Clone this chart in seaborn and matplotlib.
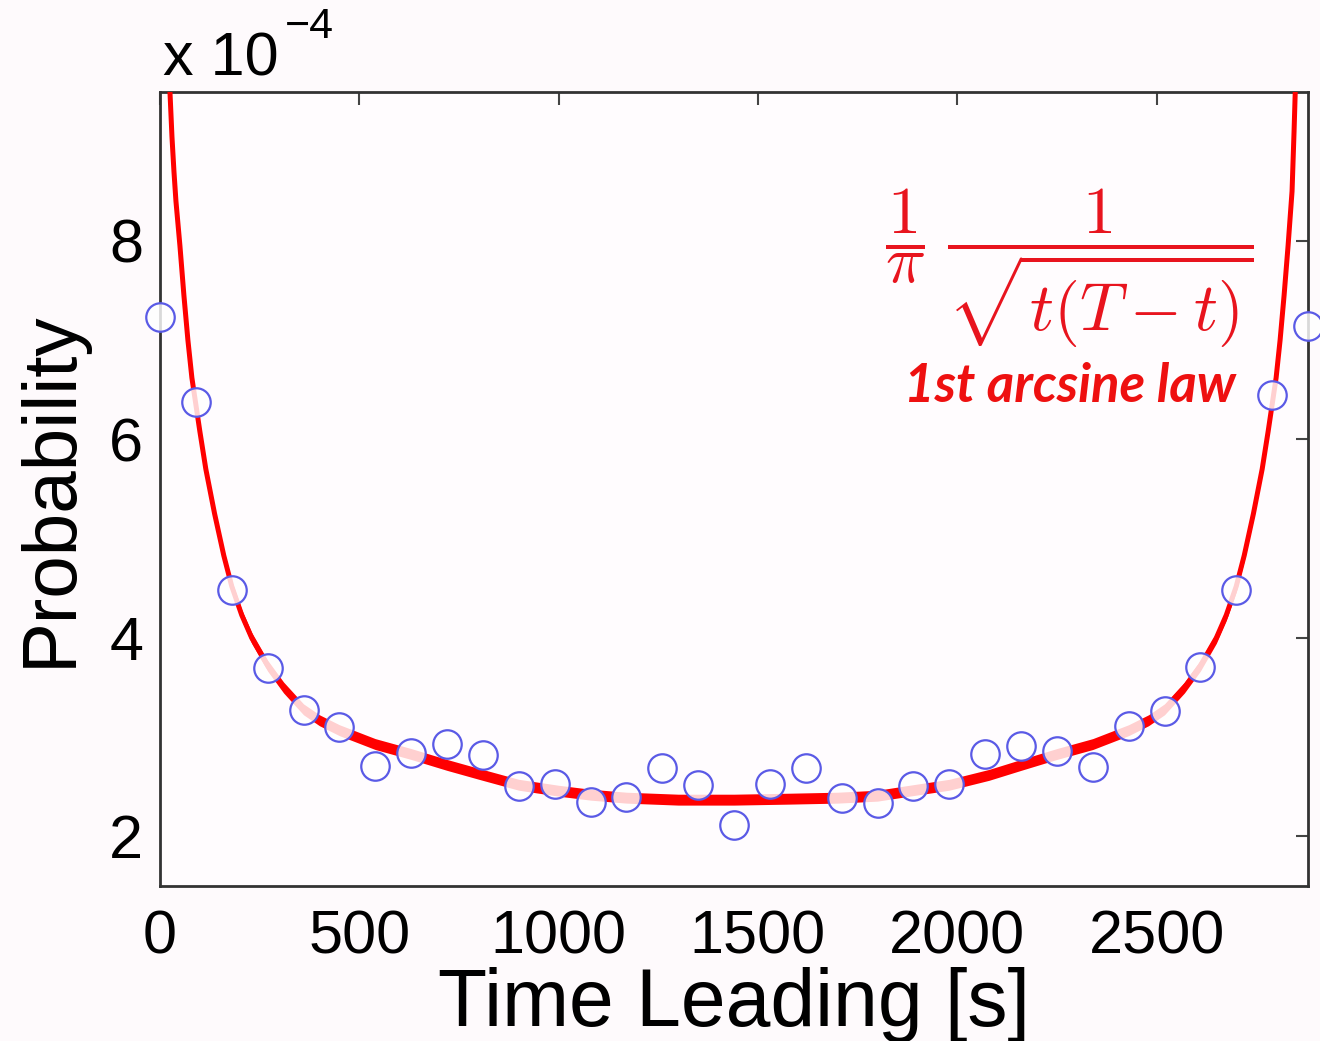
import numpy as np
import pandas as pd
import matplotlib
matplotlib.use("Agg")
import matplotlib.pyplot as plt
import seaborn as sns

# Game length in seconds and axis extents (probability in units of 1e-4)
T_GAME = 2880
X_TICKS = [0, 500, 1000, 1500, 2000, 2500]
Y_TICKS = [2, 4, 6, 8]

# Measured fraction of games by time leading (bins every 90 s), x 1e-4
lead_time = [0, 90, 180, 270, 360, 450, 540, 630, 720, 810, 900, 990, 1080,
             1170, 1260, 1350, 1440, 1530, 1620, 1710, 1800, 1890, 1980,
             2070, 2160, 2250, 2340, 2430, 2520, 2610, 2700, 2790, 2880]
lead_prob = [7.23, 6.38, 4.48, 3.70, 3.27, 3.10, 2.71, 2.84, 2.93, 2.82,
             2.51, 2.53, 2.35, 2.40, 2.69, 2.52, 2.11, 2.53, 2.69, 2.39,
             2.34, 2.51, 2.53, 2.83, 2.91, 2.86, 2.70, 3.11, 3.26, 3.71,
             4.48, 6.45, 7.14]

# Arcsine-law curve, x 1e-4
curve_t = [22, 25, 30, 35, 40, 50, 60, 70, 80, 90, 100, 115, 137, 160, 180,
           205, 230, 270, 310, 360, 400, 450, 540, 630, 720, 800, 900, 1000,
           1080, 1170, 1300, 1440, 1580, 1700, 1800, 1880, 1980, 2080, 2160,
           2250, 2340, 2430, 2480, 2520, 2570, 2610, 2650, 2675, 2700, 2720,
           2743, 2765, 2780, 2790, 2800, 2810, 2820, 2830, 2840, 2845, 2848,
           2852]
curve_p = [9.75, 9.50, 9.05, 8.70, 8.40, 7.95, 7.45, 7.00, 6.62, 6.35, 6.08,
           5.70, 5.25, 4.83, 4.52, 4.23, 4.00, 3.72, 3.50, 3.28, 3.17, 3.07,
           2.93, 2.83, 2.72, 2.63, 2.52, 2.46, 2.42, 2.39, 2.37, 2.37, 2.38,
           2.39, 2.41, 2.46, 2.52, 2.62, 2.72, 2.83, 2.93, 3.07, 3.17, 3.28,
           3.50, 3.72, 4.00, 4.23, 4.52, 4.83, 5.25, 5.70, 6.08, 6.35, 6.62,
           7.00, 7.45, 7.95, 8.50, 9.10, 9.50, 9.80]

points = pd.DataFrame({"t": lead_time, "p": lead_prob})
curve = pd.DataFrame({"t": curve_t, "p": curve_p})

sns.set_theme(style="white")
plt.rcParams["font.family"] = ["Liberation Sans", "DejaVu Sans"]
plt.rcParams["mathtext.fontset"] = "cm"
plt.rcParams["text.color"] = "black"
plt.rcParams["axes.labelcolor"] = "black"

fig = plt.figure(figsize=(13.2, 10.41), dpi=100)
fig.patch.set_facecolor("#fefafc")
ax = fig.add_axes([160 / 1320, 1 - 886 / 1041, 1148 / 1320, 794 / 1041])
ax.set_facecolor("#fffcfe")

# Thick theoretical curve: a narrow band plus a solid line
band = 0.055
ax.fill_between(curve["t"], curve["p"] - band, curve["p"] + band,
                color="#ff0000", linewidth=0, zorder=2)
sns.lineplot(data=curve, x="t", y="p", color="#ff0000", linewidth=3.6,
             ax=ax, zorder=3, estimator=None, sort=False)

sns.scatterplot(data=points, x="t", y="p", ax=ax, s=420, marker="o",
                facecolor=(1, 1, 1, 0.82), edgecolor="#5a5ae6",
                linewidth=1.6, zorder=4, clip_on=False)

ax.set_xlim(0, T_GAME)
ax.set_ylim(1.5, 9.5)
ax.set_xticks(X_TICKS)
ax.set_yticks(Y_TICKS)
ax.tick_params(direction="in", length=9, width=1.5, top=True, right=True,
               color="#444444", labelsize=44, labelcolor="black")
ax.tick_params(axis="x", pad=17)
ax.tick_params(axis="y", pad=12)
for sp in ax.spines.values():
    sp.set_color("#333333")
    sp.set_linewidth(2)

ax.set_xlabel("Time Leading [s]", fontsize=58, labelpad=0)
ax.set_ylabel("Probability", fontsize=55, labelpad=16)

# Exponent of the probability axis
fig.text(163 / 1320, 1 - 75 / 1041, "x 10", fontsize=44, va="baseline",
         ha="left")
fig.text(285 / 1320, 1 - 38 / 1041, "\u22124", fontsize=31, va="baseline",
         ha="left")

# Formula and caption
ax.text(2280, 7.72, r"$\dfrac{1}{\pi}\;\dfrac{1}{\sqrt{t(T-t)}}$",
        color="#e8141e", fontsize=48, ha="center", va="center")
ax.text(2282, 6.53, "1st arcsine law", color="#ee1010",
        fontsize=38, fontweight="bold", fontstyle="italic",
        family=["Lato", "DejaVu Sans"], ha="center", va="center")

fig.savefig("out.png", dpi=100, facecolor=fig.get_facecolor())
